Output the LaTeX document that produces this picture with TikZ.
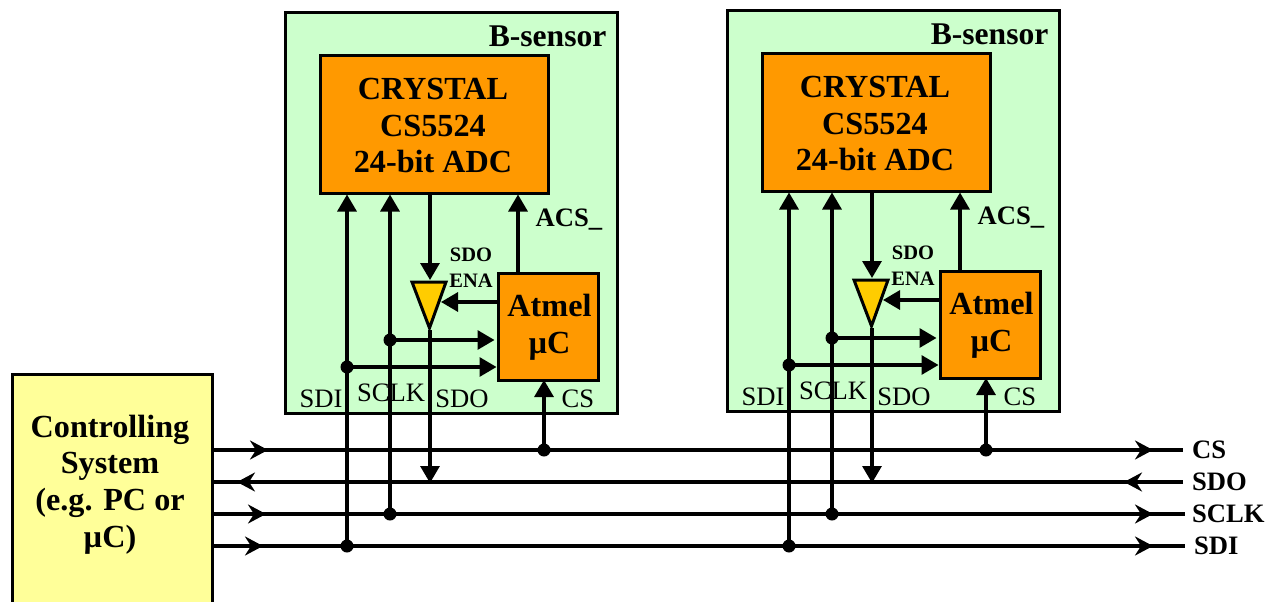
\documentclass[tikz,border=0pt]{standalone}
\usepackage{fontspec}
\setmainfont{Liberation Serif}
\usetikzlibrary{arrows.meta}
\definecolor{sensorgreen}{HTML}{CCFFCC}
\definecolor{chiporange}{HTML}{FF9900}
\definecolor{tristate}{HTML}{FFCC00}
\definecolor{ctrlyellow}{HTML}{FFFF99}
\tikzset{
  x=1pt,y=-1pt,
  boxstyle/.style={draw=black,line width=3pt,inner sep=0pt,minimum width=#1},
  bigtxt/.style={inner sep=0pt,align=center,font=\fontsize{32.2}{36.8}\selectfont\bfseries},
  titletxt/.style={inner sep=0pt,font=\fontsize{31.6}{36}\selectfont\bfseries},
  midtxt/.style={inner sep=0pt,font=\fontsize{26.6}{30}\selectfont\bfseries},
  regtxt/.style={inner sep=0pt,font=\fontsize{26.6}{30}\selectfont},
  smalltxt/.style={inner sep=0pt,align=center,font=\fontsize{20.5}{26}\selectfont\bfseries},
  solidtip/.style={-{Triangle[length=17pt,width=19pt]}},
  bustip/.style={-{Stealth[length=18pt,width=19pt,inset=6pt]}},
  junction/.style={circle,fill=black,inner sep=0pt,outer sep=0pt,minimum size=13pt},
}
\newcommand{\sensorblock}[3]{%
\begin{scope}[shift={(#2,#3)}]
  \node[boxstyle=332pt,minimum height=400pt,fill=sensorgreen] (#1box) at (451,213) {};
  \node[boxstyle=228pt,minimum height=137pt,fill=chiporange] (#1adc) at (434,124.5) {};
  \node[boxstyle=100pt,minimum height=107pt,fill=chiporange] (#1mcu) at (548,326.5) {};
  \node[bigtxt] (#1t1) at (433,125.5) {CRYSTAL\\CS5524\\24-bit ADC};
  \node[bigtxt] (#1t2) at (549.5,327.5) {Atmel\\µC};
  \node[titletxt,anchor=east] (#1t3) at (608,36) {B-sensor};
  \node[midtxt,anchor=west] (#1acs) at (534,220) {ACS\_};
  \node[smalltxt] (#1ena) at (471,268) {SDO\\ENA};
  \node[regtxt] (#1lsdi) at (321,399) {SDI};
  \node[regtxt] (#1lsclk) at (391,393) {SCLK};
  \node[regtxt] (#1lsdo) at (462,399) {SDO};
  \node[regtxt] (#1lcs) at (578,399) {CS};
  \coordinate (#1sdix) at (347,367);
  \coordinate (#1sclkx) at (390,340);
  \coordinate (#1sdox) at (430,330);
  \coordinate (#1csx) at (544,380);
  \coordinate (#1acsx) at (518,273);
  \coordinate (#1tritop) at (430,280);
  \coordinate (#1triside) at (441,302);
  \coordinate (#1enax) at (498,302);
  \draw[draw=black,line width=3pt,fill=tristate,line join=miter] (412,282) -- (446,282) -- (429.5,328) -- cycle;
  \node[junction] (#1j1) at (#1sdix) {};
  \node[junction] (#1j2) at (#1sclkx) {};
\end{scope}
\draw[solidtip] (#1sdix |- busSDI) -- (#1sdix |- #1adc.south);
\draw[solidtip] (#1sclkx |- busSCLK) -- (#1sclkx |- #1adc.south);
\draw[solidtip] (#1sdox |- #1adc.south) -- (#1tritop);
\draw[solidtip] (#1acsx) -- (#1acsx |- #1adc.south);
\draw[solidtip] (#1enax) -- (#1triside);
\draw[solidtip] (#1j1.center) -- (#1j1 -| #1mcu.west);
\draw[solidtip] (#1j2.center) -- ([xshift=-2pt]#1j2 -| #1mcu.west);
\draw[solidtip] (#1csx |- busCS) -- (#1csx);
\draw[solidtip] (#1sdox) -- ([yshift=-1pt]#1sdox |- busSDO);
\node[junction] (#1b1) at (#1sdix |- busSDI) {};
\node[junction] (#1b2) at (#1sclkx |- busSCLK) {};
\node[junction] (#1b3) at (#1csx |- busCS) {};
}
\begin{document}
\begin{tikzpicture}[line width=3.2pt]
\path[use as bounding box,fill=white] (0,0) rectangle (1266,602);
\node[boxstyle=200pt,minimum height=260pt,fill=ctrlyellow] (ctrl) at (112,504) {};
\node[bigtxt] (ctrltxt) at (110,484.5) {Controlling\\System\\(e.g. PC or\\µC)};
\coordinate (busCS) at (600,450);
\coordinate (busSDO) at (600,482);
\coordinate (busSCLK) at (600,514);
\coordinate (busSDI) at (600,546);
\node[midtxt,anchor=west] (lcs) at (1190.5,450) {CS};
\node[midtxt,anchor=west] (lsdo) at (1190.5,482) {SDO};
\node[midtxt,anchor=west] (lsclk) at (1190.5,514) {SCLK};
\node[midtxt,anchor=west] (lsdi) at (1192.5,546) {SDI};
\coordinate (csA) at (268,450);
\coordinate (csB) at (1153,450);
\coordinate (csE) at (1183,450);
\coordinate (sdoA) at (237,482);
\coordinate (sdoB) at (1124,482);
\coordinate (sdoE) at (1183,482);
\coordinate (sclkA) at (266,514);
\coordinate (sclkB) at (1153,514);
\coordinate (sclkE) at (1185,514);
\coordinate (sdiA) at (263,546);
\coordinate (sdiB) at (1153,546);
\coordinate (sdiE) at (1185,546);
\draw (ctrl.east |- busCS) -- (csE);
\draw (sdoE) -- (ctrl.east |- busSDO);
\draw (ctrl.east |- busSCLK) -- (sclkE);
\draw (ctrl.east |- busSDI) -- (sdiE);
\draw[bustip] (csA) ++(-54,0) -- (csA);
\draw[bustip] (csB) ++(-50,0) -- (csB);
\draw[bustip] (sdoB) ++(50,0) -- (sdoB);
\draw[bustip] (sdoA) ++(48,0) -- (sdoA);
\draw[bustip] (sclkA) ++(-53,0) -- (sclkA);
\draw[bustip] (sclkB) ++(-50,0) -- (sclkB);
\draw[bustip] (sdiA) ++(-50,0) -- (sdiA);
\draw[bustip] (sdiB) ++(-50,0) -- (sdiB);
\sensorblock{a}{0}{0}
\sensorblock{b}{442}{-2}
\end{tikzpicture}
\end{document}
